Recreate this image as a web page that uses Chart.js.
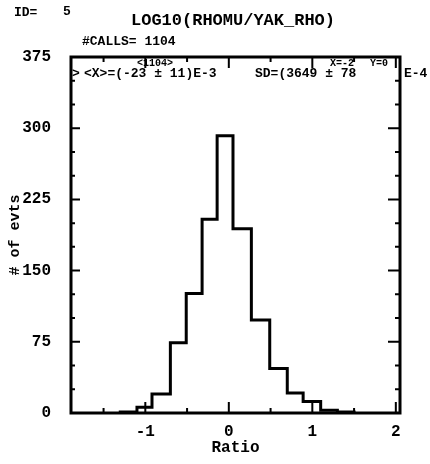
<!DOCTYPE html>
<html>
<head>
<meta charset="utf-8">
<script src="https://cdn.jsdelivr.net/npm/chart.js@4/dist/chart.umd.min.js"></script>
<style>
  html, body { margin: 0; padding: 0; background: #fff; }
  canvas { display: block; }
</style>
</head>
<body>
<canvas id="histo" width="430" height="464"></canvas>
<script>
// histogram bin edges (Ratio) and entries per bin
const binEdges = [-1.30, -1.10, -0.92, -0.70, -0.51, -0.32, -0.14, 0.05, 0.27, 0.49, 0.70, 0.89, 1.10, 1.30, 1.50];
const counts = [1, 6, 20, 74, 126, 204, 292, 194, 98, 47, 21, 12, 3, 1];

const yTicks = [0, 75, 150, 225, 300, 375];
const xTicks = [-1, 0, 1, 2];

const FONT = '"Liberation Mono", "DejaVu Sans Mono", monospace';

// stepped outline: rise at the first edge, drop at the last
const points = [{ x: binEdges[0], y: 0 }];
counts.forEach((c, i) => points.push({ x: binEdges[i], y: c }));
points.push({ x: binEdges[binEdges.length - 1], y: 0 });

const framePlugin = {
  id: 'frame',
  afterDraw(chart) {
    const { ctx, chartArea: a, scales } = chart;
    const xs = scales.x, ys = scales.y;
    ctx.save();
    ctx.strokeStyle = '#000';
    ctx.lineWidth = 3;
    ctx.strokeRect(a.left, a.top, a.right - a.left, a.bottom - a.top);

    // inward ticks, y every 25, x every 0.5
    ctx.lineWidth = 2;
    ctx.beginPath();
    for (let v = 25; v < 375; v += 25) {
      const y = ys.getPixelForValue(v);
      const len = v % 75 === 0 ? 9 : 4;
      ctx.moveTo(a.left, y); ctx.lineTo(a.left + len, y);
      ctx.moveTo(a.right, y); ctx.lineTo(a.right - (v % 75 === 0 ? 12 : 5), y);
    }
    for (let v = -1.5; v <= 2; v += 0.5) {
      const x = xs.getPixelForValue(v);
      const len = Number.isInteger(v) ? 11 : 5;
      ctx.moveTo(x, a.bottom); ctx.lineTo(x, a.bottom - len);
      ctx.moveTo(x, a.top); ctx.lineTo(x, a.top + len);
    }
    ctx.stroke();

    // header and statistics text
    ctx.fillStyle = '#000';
    ctx.textBaseline = 'middle';
    ctx.font = 'bold 13px ' + FONT;
    ctx.textAlign = 'left';
    ctx.fillText('ID=', 14, 13);
    ctx.fillText('5', 63, 12);
    ctx.fillText('#CALLS= 1104', 82, 42);
    ctx.font = 'bold 17px ' + FONT;
    ctx.textAlign = 'center';
    ctx.fillText('LOG10(RHOMU/YAK_RHO)', 233, 21);

    ctx.textAlign = 'left';
    ctx.font = 'bold 13px ' + FONT;
    ctx.fillText('>', 72, 74);
    ctx.fillText('<X>=(-23 \u00b1 11)E-3', 84, 74);
    ctx.fillText('SD=(3649 \u00b1 78', 255, 74);
    ctx.fillText('E-4', 404, 74);
    ctx.font = 'bold 10px ' + FONT;
    ctx.fillText('<1104>', 137, 63);
    ctx.fillText('X=-2', 330, 63);
    ctx.fillText('Y=0', 370, 63);
    ctx.restore();
  }
};

new Chart(document.getElementById('histo'), {
  type: 'line',
  data: {
    datasets: [{
      data: points,
      stepped: 'before',
      borderColor: '#000',
      borderWidth: 3,
      pointRadius: 0,
      fill: false
    }]
  },
  options: {
    responsive: false,
    animation: false,
    layout: { padding: { top: 57, right: 30, left: 0, bottom: 0 } },
    plugins: { legend: { display: false }, tooltip: { enabled: false } },
    scales: {
      x: {
        type: 'linear',
        min: -1.89,
        max: 2.05,
        afterBuildTicks: (s) => { s.ticks = xTicks.map(v => ({ value: v })); },
        afterFit: (s) => { s.height = 51; },
        grid: { display: false, drawTicks: false },
        border: { display: false },
        ticks: {
          padding: 9,
          color: '#000',
          font: { family: FONT, size: 16, weight: 'bold' },
          callback: (v) => String(v)
        },
        title: {
          display: true,
          text: 'Ratio',
          color: '#000',
          padding: { top: 0, bottom: 6 },
          font: { family: FONT, size: 16, weight: 'bold' }
        }
      },
      y: {
        min: 0,
        max: 375,
        afterBuildTicks: (s) => { s.ticks = yTicks.map(v => ({ value: v })); },
        afterFit: (s) => { s.width = 71; },
        grid: { display: false, drawTicks: false },
        border: { display: false },
        ticks: {
          padding: 20,
          color: '#000',
          font: { family: FONT, size: 16, weight: 'bold' }
        },
        title: {
          display: true,
          text: '# of evts',
          color: '#000',
          padding: { top: 6, bottom: 0 },
          font: { family: FONT, size: 15, weight: 'bold' }
        }
      }
    }
  },
  plugins: [framePlugin]
});
</script>
</body>
</html>
